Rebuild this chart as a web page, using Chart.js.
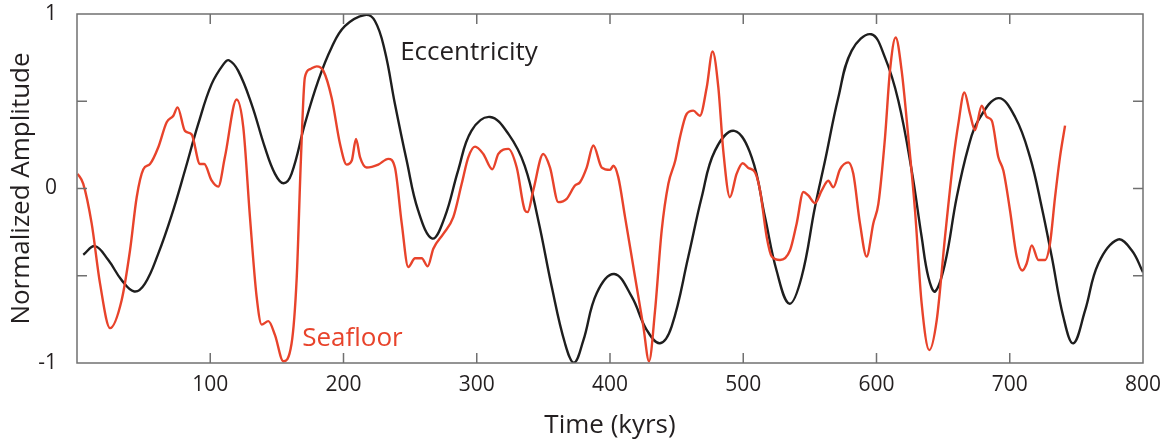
<!DOCTYPE html>
<html>
<head>
<meta charset="utf-8">
<script src="https://cdn.jsdelivr.net/npm/chart.js@4.4.0/dist/chart.umd.min.js"></script>
<style>
  html, body { margin: 0; padding: 0; background: #fff; }
</style>
</head>
<body>
<canvas id="chart" width="1165" height="444"></canvas>
<script>
// Eccentricity (black)
const eccTime = [4.7, 13.5, 23.5, 33.5, 43, 51, 61, 71, 81, 91, 101, 110, 114, 121, 131, 141, 148.6, 155, 161, 171, 181, 191, 201, 216, 223.6, 231, 238.6, 247.4, 256, 266.7, 276, 286, 296, 310, 324, 336, 346.2, 356.2, 366.2, 373, 380, 390, 403.2, 416.3, 427.5, 437.5, 446.3, 458.8, 468.8, 478.8, 493.3, 506.3, 516.3, 525, 534.6, 543.8, 553.8, 561.4, 571.3, 581.4, 596, 606.4, 616.4, 626.4, 633.9, 638.9, 644, 651.4, 660.2, 668.9, 676.4, 691.4, 704, 715.2, 724, 731.5, 740.2, 747.7, 756.5, 766.5, 781, 791.5, 800];
const eccentricity = [-0.38, -0.33, -0.41, -0.525, -0.59, -0.545, -0.373, -0.154, 0.103, 0.37, 0.598, 0.713, 0.735, 0.674, 0.484, 0.236, 0.084, 0.03, 0.084, 0.37, 0.617, 0.807, 0.93, 0.994, 0.96, 0.789, 0.484, 0.16, -0.126, -0.287, -0.164, 0.103, 0.33, 0.41, 0.31, 0.13, -0.183, -0.56, -0.887, -0.998, -0.87, -0.6, -0.49, -0.62, -0.81, -0.887, -0.79, -0.39, -0.05, 0.217, 0.33, 0.18, -0.164, -0.47, -0.66, -0.507, -0.107, 0.16, 0.52, 0.79, 0.884, 0.75, 0.503, 0.103, -0.278, -0.507, -0.59, -0.43, -0.05, 0.236, 0.39, 0.518, 0.41, 0.18, -0.107, -0.39, -0.735, -0.887, -0.7, -0.43, -0.293, -0.354, -0.48];

// Seafloor (red)
const seaTime = [0.5, 4.7, 11, 17.3, 24.8, 33.5, 39.8, 44.8, 49.8, 54.8, 61, 67.3, 72.3, 75.5, 81, 86, 92.3, 95.5, 101, 106, 111, 119.8, 124.8, 129.8, 134.8, 138.6, 143.6, 148.6, 154.8, 161, 164.9, 168, 171, 174.9, 179.9, 184.9, 191.1, 197.4, 202.4, 206.2, 209.4, 212.4, 217.4, 226.1, 233.6, 238.6, 243.7, 248.6, 253.7, 258.7, 263.2, 267.4, 274.9, 282.4, 288.7, 293.7, 298.7, 304.9, 311.7, 316.2, 323.7, 330, 336.2, 338.2, 342.4, 349.9, 355, 361.2, 367.5, 373.7, 377.5, 382.5, 387.5, 393.8, 400, 402.5, 406.2, 411.3, 418.8, 425, 429.3, 433.8, 438.8, 443.8, 449, 452.5, 457.5, 462.5, 467.5, 472.6, 477, 481.3, 485, 490, 495, 499.6, 503.8, 508.8, 512.6, 517.6, 521.4, 527.6, 535.1, 540.1, 545.1, 548.8, 553.8, 558.9, 563.8, 567.6, 572.6, 578.8, 582.6, 587.6, 592.6, 597.6, 601.4, 606.4, 610.1, 614.4, 618.9, 623.9, 628.9, 633.9, 639.6, 645.2, 651.4, 657.6, 661.4, 665.9, 670.2, 673.9, 679, 682.7, 686.5, 691.4, 695.2, 700.2, 705.2, 709.4, 712.7, 716.5, 721.5, 726.4, 730.2, 734, 737.7, 741.5];
const seafloor = [0.084, 0.027, -0.2, -0.545, -0.8, -0.64, -0.354, -0.05, 0.11, 0.14, 0.236, 0.38, 0.417, 0.465, 0.33, 0.31, 0.14, 0.14, 0.046, 0.011, 0.18, 0.51, 0.35, -0.164, -0.62, -0.78, -0.76, -0.84, -0.99, -0.89, -0.51, 0.16, 0.636, 0.684, 0.7, 0.674, 0.52, 0.255, 0.137, 0.16, 0.284, 0.18, 0.12, 0.137, 0.17, 0.12, -0.2, -0.45, -0.4, -0.4, -0.446, -0.345, -0.26, -0.164, 0.027, 0.18, 0.24, 0.198, 0.11, 0.198, 0.227, 0.12, -0.126, -0.135, -0.011, 0.198, 0.12, -0.078, -0.059, 0.017, 0.036, 0.12, 0.246, 0.12, 0.107, 0.13, 0.065, -0.164, -0.507, -0.79, -0.99, -0.7, -0.24, 0.027, 0.16, 0.293, 0.427, 0.446, 0.417, 0.58, 0.785, 0.58, 0.217, -0.05, 0.084, 0.145, 0.118, 0.093, -0.011, -0.278, -0.39, -0.41, -0.354, -0.2, -0.02, -0.04, -0.084, -0.011, 0.044, 0.007, 0.11, 0.15, 0.084, -0.2, -0.39, -0.2, -0.088, 0.293, 0.674, 0.865, 0.674, 0.293, -0.126, -0.66, -0.926, -0.754, -0.278, 0.16, 0.37, 0.55, 0.427, 0.335, 0.474, 0.41, 0.39, 0.18, 0.103, -0.126, -0.39, -0.47, -0.43, -0.326, -0.41, -0.41, -0.316, -0.05, 0.18, 0.36];

const xMarks = [100, 200, 300, 400, 500, 600, 700];
const yMarks = [-0.5, 0, 0.5];
const yLabels = [-1, 0, 1];

const RED = '#e8432b';
const INK = '#231f20';
const FONT = '"Open Sans", sans-serif';

const pts = (xs, ys) => xs.map((t, i) => ({ x: t, y: ys[i] }));

// box, inward tick marks and the two curve labels
const framePlugin = {
  id: 'frame',
  afterDatasetsDraw(chart) {
    const { ctx, chartArea: a, scales: { x, y } } = chart;
    ctx.save();
    ctx.strokeStyle = '#707070';
    ctx.lineWidth = 1.5;
    ctx.strokeRect(a.left, a.top, a.right - a.left, a.bottom - a.top);
    ctx.beginPath();
    xMarks.forEach(v => {
      const p = x.getPixelForValue(v);
      ctx.moveTo(p, a.bottom); ctx.lineTo(p, a.bottom - 10);
      ctx.moveTo(p, a.top); ctx.lineTo(p, a.top + 10);
    });
    yMarks.forEach(v => {
      const p = y.getPixelForValue(v);
      ctx.moveTo(a.left, p); ctx.lineTo(a.left + 10, p);
      ctx.moveTo(a.right, p); ctx.lineTo(a.right - 10, p);
    });
    ctx.stroke();

    ctx.font = '26px ' + FONT;
    ctx.textBaseline = 'middle';
    ctx.textAlign = 'left';
    ctx.fillStyle = INK;
    ctx.fillText('Eccentricity', x.getPixelForValue(242.5), y.getPixelForValue(0.78));
    ctx.fillStyle = RED;
    ctx.fillText('Seafloor', x.getPixelForValue(169), y.getPixelForValue(-0.86));
    ctx.restore();
  }
};

new Chart(document.getElementById('chart'), {
  type: 'scatter',
  data: {
    datasets: [
      {
        label: 'Seafloor',
        data: pts(seaTime, seafloor),
        showLine: true,
        borderColor: RED,
        borderWidth: 2.4,
        pointRadius: 0,
        cubicInterpolationMode: 'monotone'
      },
      {
        label: 'Eccentricity',
        data: pts(eccTime, eccentricity),
        showLine: true,
        borderColor: '#1e1e1e',
        borderWidth: 2.4,
        pointRadius: 0,
        tension: 0.4
      }
    ]
  },
  options: {
    responsive: false,
    devicePixelRatio: 1,
    animation: false,
    layout: { padding: { top: 14, right: 22, left: 0, bottom: 0 } },
    plugins: { legend: { display: false }, tooltip: { enabled: false } },
    scales: {
      x: {
        type: 'linear',
        min: 0,
        max: 800,
        afterFit: s => { s.height = 81; s.paddingLeft = 0; s.paddingRight = 0; },
        grid: { display: false, drawTicks: false },
        border: { display: false },
        ticks: {
          stepSize: 100,
          padding: 9,
          maxRotation: 0,
          autoSkip: false,
          color: INK,
          font: { family: FONT, size: 21 },
          callback: v => (xMarks.includes(v) || v === 800) ? String(v) : ''
        },
        title: {
          display: true,
          text: 'Time (kyrs)',
          color: INK,
          font: { family: FONT, size: 26 },
          padding: { top: 0, bottom: 3 }
        }
      },
      y: {
        type: 'linear',
        min: -1,
        max: 1,
        afterFit: s => { s.width = 77; s.paddingTop = 0; s.paddingBottom = 0; },
        grid: { display: false, drawTicks: false },
        border: { display: false },
        ticks: {
          stepSize: 0.5,
          padding: 20,
          color: INK,
          font: { family: FONT, size: 21 },
          callback: v => yLabels.includes(v) ? String(v) : ''
        },
        title: {
          display: true,
          text: 'Normalized Amplitude',
          color: INK,
          font: { family: FONT, size: 26 },
          padding: { top: 6, bottom: 0 }
        }
      }
    }
  },
  plugins: [framePlugin]
});
</script>
</body>
</html>
